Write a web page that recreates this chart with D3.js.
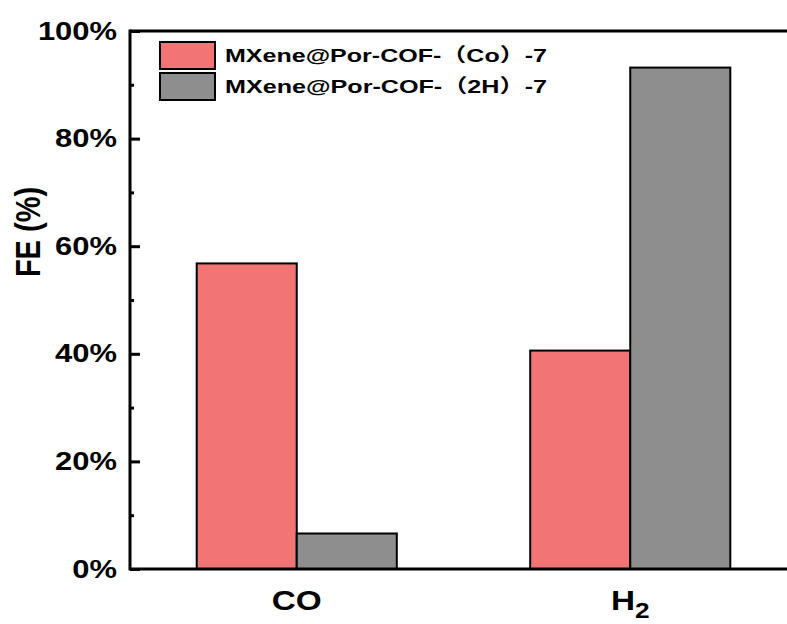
<!DOCTYPE html>
<html>
<head>
<meta charset="utf-8">
<script src="https://cdn.jsdelivr.net/npm/d3@7"></script>
<style>
  body { margin: 0; background: #fff; }
  text { font-family: "Liberation Sans", Arial, "Noto Sans CJK SC", sans-serif; font-weight: bold; fill: #000; }
</style>
</head>
<body>
<svg id="chart" width="787" height="624"></svg>
<script>
// categories on the x axis and the two series
var categories = ["CO", "H2"];
var seriesNames = ["MXene@Por-COF-（Co）-7", "MXene@Por-COF-（2H）-7"];
var coValues = [56.8, 40.6];   // Co series, per category
var hValues = [6.6, 93.2];     // 2H series, per category
var yTicks = [0, 20, 40, 60, 80, 100];
var yMinorTicks = [10, 30, 50, 70, 90];

var colors = ["#F27475", "#8E8E8E"];
// the source picture is stretched a bit horizontally, so text is too
var stretch = 1.19;

var svg = d3.select("#chart");
var margin = {top: 31, left: 130, bottom: 55};
var height = 624 - margin.top - margin.bottom;

var x = d3.scaleBand()
	.domain(categories)
	.range([margin.left, 797])
	.paddingInner(0.4)
	.paddingOuter(0.2);

var xSeries = d3.scaleBand()
	.domain([0, 1])
	.range([0, x.bandwidth()]);

var y = d3.scaleLinear()
	.domain([0, 100])
	.range([margin.top + height, margin.top]);

// bars
var rows = categories.map(function(c, i) {
	return {category: c, values: [coValues[i], hValues[i]]};
});

var groups = svg.selectAll(".group")
	.data(rows)
	.enter()
	.append("g")
	.attr("class", "group")
	.attr("transform", function(d) { return "translate(" + x(d.category) + ",0)"; });

groups.selectAll("rect")
	.data(function(d) { return d.values; })
	.enter()
	.append("rect")
	.attr("x", function(d, i) { return xSeries(i); })
	.attr("y", function(d) { return y(d); })
	.attr("width", xSeries.bandwidth())
	.attr("height", function(d) { return y(0) - y(d); })
	.attr("fill", function(d, i) { return colors[i]; })
	.attr("stroke", "#000")
	.attr("stroke-width", 2);

// frame lines: left, top, bottom (right side is outside the picture)
var frame = svg.append("g").attr("stroke", "#000").attr("stroke-width", 3);
frame.append("line").attr("x1", margin.left).attr("x2", margin.left)
	.attr("y1", y(100) - 1.5).attr("y2", y(0) + 1.5);
frame.append("line").attr("x1", margin.left).attr("x2", 797)
	.attr("y1", y(100)).attr("y2", y(100));
frame.append("line").attr("x1", margin.left).attr("x2", 797)
	.attr("y1", y(0)).attr("y2", y(0));

// y axis with inward ticks
var yAxis = svg.append("g")
	.attr("transform", "translate(" + margin.left + ",0)")
	.call(d3.axisLeft(y).tickValues(yTicks).tickSize(-10).tickFormat(""));
yAxis.select(".domain").remove();
yAxis.selectAll(".tick line").attr("stroke", "#000").attr("stroke-width", 3);

var yMinor = svg.append("g")
	.attr("transform", "translate(" + margin.left + ",0)")
	.call(d3.axisLeft(y).tickValues(yMinorTicks).tickSize(-4).tickFormat(""));
yMinor.select(".domain").remove();
yMinor.selectAll(".tick line").attr("stroke", "#000").attr("stroke-width", 3);

// tick labels
svg.selectAll(".ylabel")
	.data(yTicks)
	.enter()
	.append("text")
	.attr("class", "ylabel")
	.attr("transform", function(d) { return "translate(117," + (y(d) + 8.5) + ") scale(" + stretch + ",1)"; })
	.attr("text-anchor", "end")
	.style("font-size", "26px")
	.text(function(d) { return d + "%"; });

// category labels
var catLabels = svg.selectAll(".xlabel")
	.data(categories)
	.enter()
	.append("text")
	.attr("class", "xlabel")
	.attr("transform", function(d) { return "translate(" + (x(d) + x.bandwidth() / 2) + ",610) scale(" + stretch + ",1)"; })
	.attr("text-anchor", "middle")
	.style("font-size", "28px");
catLabels.append("tspan").text(function(d) { return d.charAt(0); });
catLabels.append("tspan")
	.attr("dy", function(d) { return d == "H2" ? 8 : 0; })
	.style("font-size", function(d) { return d == "H2" ? "22px" : "28px"; })
	.text(function(d) { return d.slice(1); });

// y axis title
svg.append("text")
	.attr("transform", "translate(40,232) scale(" + stretch + ",1) rotate(-90)")
	.attr("text-anchor", "middle")
	.style("font-size", "29px")
	.text("FE (%)");

// legend
var legend = svg.selectAll(".legend")
	.data(seriesNames)
	.enter()
	.append("g")
	.attr("class", "legend")
	.attr("transform", function(d, i) { return "translate(160," + (42 + i * 31) + ")"; });

legend.append("rect")
	.attr("width", 55)
	.attr("height", 27)
	.attr("fill", function(d, i) { return colors[i]; })
	.attr("stroke", "#000")
	.attr("stroke-width", 2);

legend.append("text")
	.attr("transform", "translate(65,20)")
	.attr("textLength", 322)
	.attr("lengthAdjust", "spacingAndGlyphs")
	.style("font-size", "19px")
	.text(function(d) { return d; });
</script>
</body>
</html>
